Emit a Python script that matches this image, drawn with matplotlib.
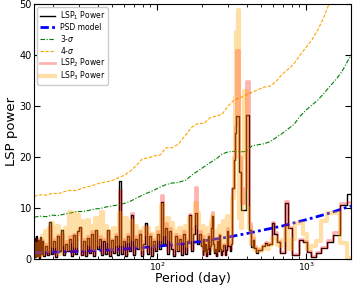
import numpy as np
import matplotlib
matplotlib.use("Agg")
import matplotlib.pyplot as plt

# ---------------- data ----------------
# LSP period grid (days)
lsp_period = [
    15.06, 15.30, 15.54, 15.78, 16.02, 16.27, 16.52, 16.78, 17.04,
    17.44, 17.99, 18.55, 19.13, 19.73, 20.35, 20.99, 21.65, 22.33, 23.03,
    23.75, 24.50, 25.27, 26.06, 26.88, 27.72, 28.59, 29.49, 30.42, 31.37,
    32.36, 33.37, 34.42, 35.50, 36.61, 37.76, 38.95, 40.17, 41.43, 42.73,
    44.07, 45.46, 46.88, 48.36, 49.87, 51.44, 53.06, 54.72, 56.44, 58.21,
    60.04, 61.93, 63.87, 65.88, 67.94, 70.08, 72.28, 74.55, 76.89, 79.30,
    81.79, 84.36, 87.01, 89.74, 92.56, 95.47, 98.47, 101.6, 104.8, 108.0,
    111.4, 114.9, 118.5, 122.3, 126.1, 130.1, 134.1, 138.3, 142.7, 147.2,
    151.8, 156.6, 161.5, 166.6, 171.8, 177.2, 182.8, 188.5, 194.4,
    200.6, 203.3, 206.0, 208.8, 211.6, 214.6, 217.6, 220.8, 224.0, 227.3,
    230.7, 234.2, 237.8, 241.5, 245.4, 249.4, 253.5, 257.7, 262.1, 266.7,
    271.4, 276.2, 281.3, 286.5, 292.0, 297.6, 303.5, 309.6, 316.0,
    322.6, 329.5, 336.7, 344.2, 352.1, 360.4, 369.0, 378.1, 387.6, 397.6,
    408.2, 419.3, 431.0, 443.5,
    456.6, 470.6, 485.4, 501.3, 518.1, 536.2, 555.6, 576.4, 598.8, 623.1,
    649.4, 678.0, 709.2, 743.5, 781.3, 823.0, 869.6, 921.7, 980.4, 1047,
    1124, 1212, 1316, 1439, 1587, 1770, 2000,
]

lsp1_power = [
    4.2, 0.3, 4.5, 0.5, 3.8, 0.2, 4.4, 1.0, 3.5,
    0.5, 2.5, 0.8, 7.3, 1.0, 3.5, 0.4, 4.5, 1.5, 5.7,
    0.8, 3.0, 1.5, 4.0, 0.5, 4.8, 1.0, 5.5, 6.3, 0.8,
    3.5, 0.5, 4.2, 1.2, 5.0, 0.6, 5.7, 2.0, 4.0, 0.8,
    3.5, 1.0, 5.7, 0.5, 3.8, 1.2, 4.5, 0.8, 15.2, 1.0,
    3.5, 0.5, 4.5, 1.5, 8.6, 0.8, 4.0, 2.0, 5.0, 0.6,
    3.0, 7.0, 1.0, 4.5, 0.5, 3.5, 1.5, 5.0, 2.0, 11.2,
    3.0, 6.0, 1.0, 5.5, 2.0, 0.6, 4.5, 1.5, 4.0, 0.8,
    5.0, 1.0, 3.5, 8.6, 1.5, 5.0, 9.0, 3.0, 5.0,
    2.5, 0.8, 4.0, 1.5, 3.0, 0.6, 2.0, 4.5, 1.0, 2.5,
    6.0, 8.5, 3.0, 1.2, 2.0, 0.5, 3.5, 1.5, 4.8, 2.0,
    0.8, 1.5, 2.8, 0.7, 1.8, 5.5, 2.5, 1.5, 3.0,
    14.0, 19.4, 24.7, 28.0, 28.0, 17.0, 9.6, 9.6, 9.6, 28.2,
    28.2, 5.7, 2.4, 3.8,
    2.2, 1.2, 1.8, 1.8, 2.5, 3.1, 2.8, 3.0, 7.0, 5.0,
    3.4, 1.1, 1.1, 10.9, 6.0, 0.8, 0.8, 3.7, 3.4, 1.4,
    0.3, 1.1, 2.1, 3.4, 4.7, 10.6, 12.8,
]

lsp2_power = [
    3.8, 0.5, 4.0, 0.8, 3.5, 0.6, 4.0, 1.2, 3.8,
    1.0, 3.0, 1.0, 6.5, 1.5, 4.0, 0.8, 4.8, 2.0, 5.0,
    1.2, 3.5, 2.0, 4.5, 1.0, 5.0, 1.5, 5.0, 6.0, 1.0,
    4.0, 1.0, 4.5, 1.5, 5.5, 1.0, 5.5, 2.5, 4.5, 1.2,
    4.0, 1.5, 5.5, 1.0, 4.0, 1.5, 5.0, 1.5, 13.5, 1.5,
    4.0, 1.0, 5.0, 2.0, 9.0, 1.2, 4.5, 2.5, 5.5, 1.0,
    3.5, 6.5, 1.5, 5.0, 1.0, 4.0, 2.0, 5.5, 3.0, 12.5,
    3.5, 7.0, 1.5, 6.0, 2.5, 1.0, 5.0, 2.0, 4.5, 1.2,
    5.5, 1.5, 4.0, 8.8, 2.0, 6.0, 14.2, 4.0, 5.5,
    2.8, 1.0, 4.5, 2.0, 3.5, 0.8, 2.5, 5.0, 1.5, 3.0,
    7.0, 9.3, 3.5, 1.5, 2.5, 0.8, 4.0, 2.0, 5.0, 2.5,
    1.0, 2.0, 3.0, 1.0, 2.0, 6.0, 3.0, 2.0, 3.5,
    14.0, 20.0, 26.0, 41.0, 41.0, 20.0, 11.0, 11.0, 14.0, 35.0,
    35.0, 7.0, 3.0, 4.2,
    2.5, 1.5, 2.0, 2.0, 2.8, 3.3, 3.0, 3.2, 7.3, 5.2,
    3.6, 1.3, 1.3, 11.3, 6.3, 1.0, 1.0, 3.9, 3.6, 1.6,
    0.5, 1.3, 2.3, 3.7, 5.2, 11.0, 11.2,
]

lsp3_power = [
    2.0, 1.0, 3.0, 0.5, 2.5, 1.5, 3.5, 0.8, 4.5,
    2.0, 5.5, 1.5, 6.0, 7.0, 2.5, 4.5, 6.5, 1.0, 5.5,
    3.0, 6.0, 2.0, 9.3, 3.5, 9.0, 2.5, 8.6, 4.0, 7.5,
    2.0, 6.0, 7.6, 3.0, 6.5, 2.0, 8.0, 3.0, 7.0, 9.3,
    4.0, 6.5, 3.5, 5.5, 2.0, 6.0, 3.0, 5.0, 9.0, 3.0,
    6.0, 8.0, 3.5, 5.5, 7.5, 4.0, 6.5, 2.5, 5.5, 2.0,
    6.0, 5.0, 6.0, 3.0, 5.0, 2.5, 4.5, 6.0, 4.0, 10.6,
    5.0, 7.5, 8.0, 4.0, 7.0, 3.0, 5.5, 2.0, 6.0, 3.5,
    4.5, 6.5, 2.5, 8.0, 4.0, 7.0, 10.9, 9.0, 6.0,
    4.0, 2.0, 6.5, 3.0, 5.0, 1.5, 3.5, 6.0, 2.5, 4.5,
    7.5, 8.5, 5.0, 2.0, 3.5, 1.5, 5.5, 3.0, 6.5, 4.0,
    2.0, 6.0, 7.5, 3.0, 5.5, 8.5, 4.0, 3.0, 5.0,
    12.0, 20.0, 31.8, 44.6, 48.8, 8.0, 6.0, 20.0, 33.0, 33.0,
    10.0, 6.0, 3.0, 4.5,
    2.0, 1.5, 2.0, 1.5, 2.2, 2.5, 2.0, 2.8, 4.1, 4.1,
    2.8, 2.5, 3.7, 6.0, 2.0, 4.0, 7.0, 7.0, 5.0, 2.0,
    2.5, 3.5, 7.5, 9.0, 9.0, 3.2, 0.1,
]

# PSD model
psd_period = [15, 20, 30, 50, 70, 100, 150, 200, 300, 400, 500, 700, 1000, 1400, 2004]
psd_power = [1.25, 1.35, 1.5, 1.8, 2.1, 2.5, 3.0, 3.5, 4.3, 5.0, 5.6, 6.5, 7.7, 8.9, 10.4]

# significance levels
sig_period = [
    14.94, 16.40, 17.99, 19.74, 21.66, 23.76, 26.07, 28.60, 31.38, 34.43,
    37.77, 41.44, 45.47, 49.89, 54.73, 60.05, 65.88, 72.28, 79.30, 87.01,
    95.47, 104.7, 114.9, 126.1, 138.3, 156.5, 171.8, 188.5, 206.8, 226.8,
    248.9, 273.2, 299.6, 328.7, 360.6, 395.7, 434.2, 476.3, 522.5, 573.4,
    629.1, 690.4, 757.0, 830.8, 911.6, 1000, 1097, 1204, 1320, 1449,
    1590, 1745, 2004,
]
sig3 = [
    8.2, 8.4, 8.3, 8.6, 8.5, 8.8, 9.0, 9.3, 9.3, 9.5,
    9.8, 9.9, 10.2, 10.4, 10.6, 10.9, 11.3, 11.9, 12.5, 13.0,
    13.5, 14.1, 14.6, 14.9, 15.0, 15.5, 16.5, 17.3, 18.1, 18.9,
    19.6, 20.6, 21.0, 21.1, 21.0, 21.1, 22.2, 22.4, 22.6, 23.0,
    23.8, 24.6, 25.5, 26.4, 28.0, 29.2, 30.2, 31.2, 32.5, 33.9,
    35.2, 36.8, 40.0,
]
sig4 = [
    12.3, 12.6, 12.5, 12.9, 12.8, 13.2, 13.5, 13.4, 13.9, 14.2,
    14.5, 14.9, 15.1, 15.4, 15.9, 16.4, 17.2, 18.3, 19.6, 19.8,
    20.2, 20.4, 21.8, 21.8, 22.5, 24.4, 25.9, 26.6, 26.6, 27.7,
    28.0, 28.4, 30.0, 31.2, 31.6, 32.2, 32.7, 33.2, 33.7, 33.9,
    34.8, 36.2, 37.2, 38.3, 40.0, 41.5, 43.0, 45.0, 47.5, 50.5,
    53.0, 56.0, 60.0,
]

# ---------------- plot ----------------
fig = plt.figure(figsize=(3.57, 2.86), dpi=100)
ax = fig.add_axes([0.0952, 0.0944, 0.8880, 0.8916])

ax.plot(lsp_period, lsp1_power, color='black', lw=1.0, drawstyle='steps-mid',
        label=r'LSP$_1$ Power')
ax.plot(psd_period, psd_power, color='blue', lw=2.0, dashes=(3.0, 1.2, 1.0, 1.2),
        label='PSD model')
ax.plot(sig_period, sig3, color='green', lw=0.8, dashes=(4.0, 1.5, 1.0, 1.5), label=r'3-$\sigma$')
ax.plot(sig_period, sig4, color='orange', lw=0.8, dashes=(3.0, 1.5), label=r'4-$\sigma$')
ax.plot(lsp_period, lsp2_power, color='red', lw=2.0, alpha=0.3, drawstyle='steps-mid',
        label=r'LSP$_2$ Power')
ax.plot(lsp_period, lsp3_power, color='orange', lw=3.0, alpha=0.35, drawstyle='steps-mid',
        label=r'LSP$_3$ Power')

ax.set_xscale('log')
ax.set_xlim(14.9, 2004)
ax.set_ylim(0, 50)
ax.set_yticks([0, 10, 20, 30, 40, 50])
ax.tick_params(which='both', direction='in', top=True, right=True, labelsize=7, pad=1.5)
ax.tick_params(axis='x', which='both', labelsize=6.5, pad=1)
ax.tick_params(which='major', length=4)
ax.tick_params(which='minor', length=2)
ax.set_xlabel('Period (day)', fontsize=9)
ax.xaxis.set_label_coords(0.5, -0.052)
ax.set_ylabel('LSP power', fontsize=9.5, labelpad=1)

leg = ax.legend(loc='upper left', fontsize=5.5, handlelength=2.0, borderaxespad=0.4,
                labelspacing=0.1, handletextpad=0.6, borderpad=0.35, framealpha=1.0)

fig.savefig('out.png', dpi=100)
